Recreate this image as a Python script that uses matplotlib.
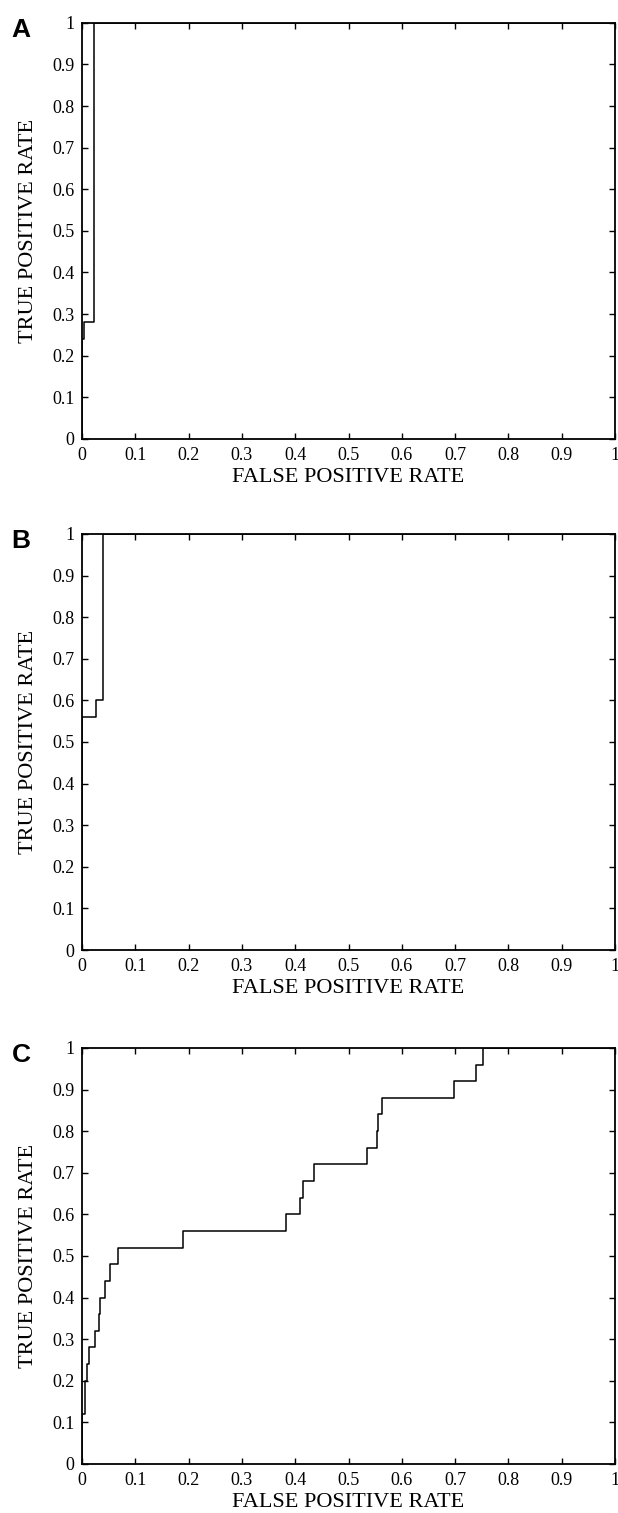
import matplotlib.pyplot as plt
import numpy as np

plt.rcParams['font.family'] = ['Liberation Serif', 'DejaVu Serif']

# ROC corner points (false positive rate, true positive rate)
fpr_a = [0.0, 0.0, 0.004, 0.023, 1.0]
tpr_a = [0.0, 0.24, 0.28, 1.0, 1.0]

fpr_b = [0.0, 0.0, 0.026, 0.040, 1.0]
tpr_b = [0.0, 0.56, 0.60, 1.0, 1.0]

fpr_c = [0.0, 0.0, 0.006, 0.009, 0.014, 0.025, 0.032, 0.034, 0.043, 0.0525,
         0.067, 0.189, 0.383, 0.409, 0.415, 0.436, 0.535, 0.553, 0.555,
         0.562, 0.697, 0.740, 0.752, 1.0]
tpr_c = [0.0, 0.12, 0.20, 0.24, 0.28, 0.32, 0.36, 0.40, 0.44, 0.48,
         0.52, 0.56, 0.60, 0.64, 0.68, 0.72, 0.76, 0.80, 0.84,
         0.88, 0.92, 0.96, 1.0, 1.0]

panels = ['A', 'B', 'C']
ticks = np.round(np.arange(0, 1.01, 0.1), 1)
tick_labels = ['%g' % t for t in ticks]

fig = plt.figure(figsize=(6.18, 15.13), dpi=100)

bottoms = [0.7099, 0.3721, 0.0324]
data = [(fpr_a, tpr_a), (fpr_b, tpr_b), (fpr_c, tpr_c)]

for letter, bottom, (x, y) in zip(panels, bottoms, data):
    ax = fig.add_axes([0.1327, bottom, 0.8625, 0.275])
    ax.plot(x, y, drawstyle='steps-post', color='black', lw=1.1)
    ax.set_xlim(0, 1)
    ax.set_ylim(0, 1)
    ax.set_xticks(ticks)
    ax.set_yticks(ticks)
    ax.set_xticklabels(tick_labels)
    ax.set_yticklabels(tick_labels)
    ax.tick_params(direction='in', top=True, right=True, length=4.3,
                   width=1.0, labelsize=13, pad=5.5)
    for s in ax.spines.values():
        s.set_linewidth(1.3)
    ax.set_xlabel('FALSE POSITIVE RATE', fontsize=16)
    ax.set_ylabel('TRUE POSITIVE RATE', fontsize=16)
    ax.xaxis.set_label_coords(0.5, -0.070)
    ax.yaxis.set_label_coords(-0.083, 0.5)
    top = bottom + 0.275
    fig.text(0.034, top - 0.0044, letter, fontsize=19, fontweight='bold',
             family=['Liberation Sans', 'DejaVu Sans'], ha='center', va='center')

plt.savefig('out.png')
